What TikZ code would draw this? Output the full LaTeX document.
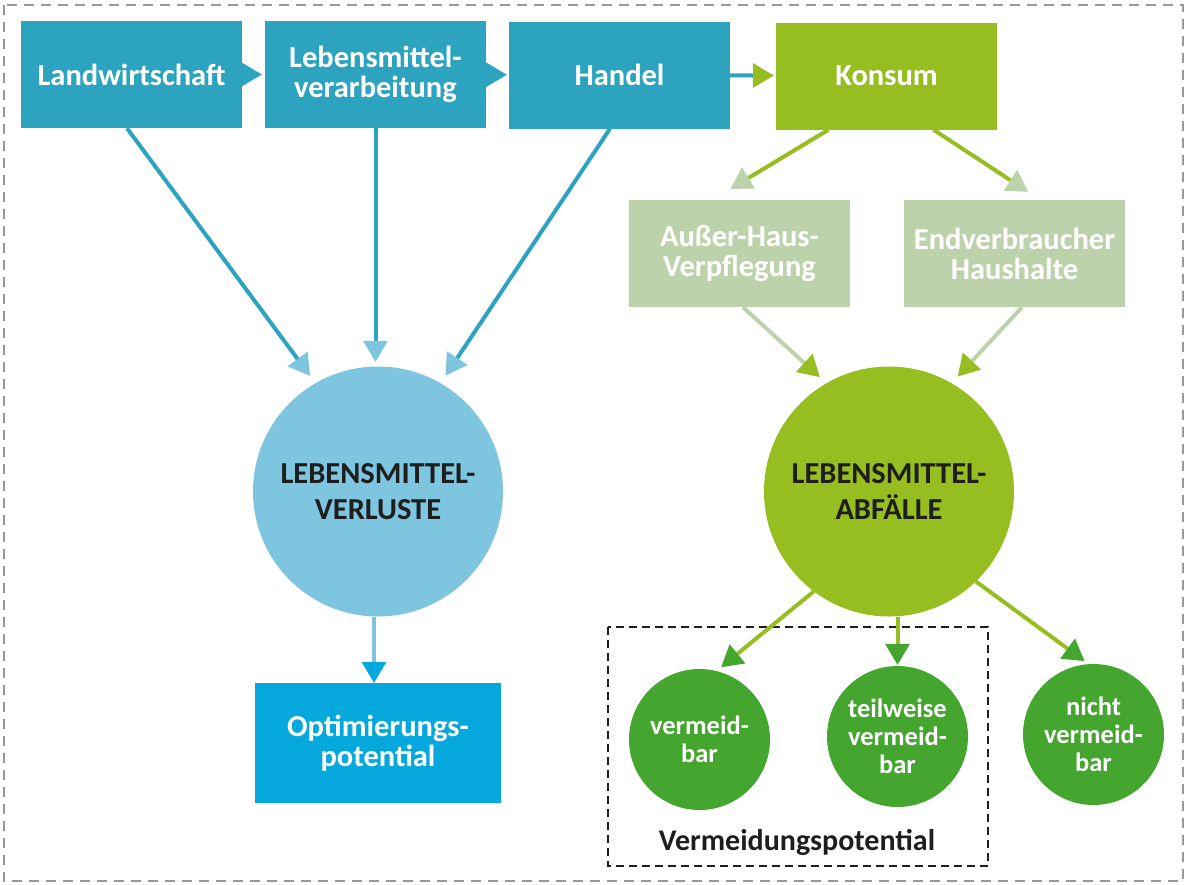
\documentclass[tikz,border=0pt]{standalone}
\usepackage{fontspec}
\setmainfont{Carlito}
\usetikzlibrary{arrows.meta}
\definecolor{stagecol}{HTML}{2CA3BF}
\definecolor{konsumcol}{HTML}{97BE21}
\definecolor{palecol}{HTML}{BBD2AA}
\definecolor{losscol}{HTML}{7EC5DF}
\definecolor{optcol}{HTML}{05A8DC}
\definecolor{avoidcol}{HTML}{44A62E}
\definecolor{inkcol}{HTML}{1E1E1E}
\definecolor{framecol}{HTML}{999999}

\begin{document}
\begin{tikzpicture}[x=1pt,y=-1pt,
  every node/.style={inner sep=0pt,align=center},
  stagebox/.style={rectangle,fill=#1,minimum width=221pt,minimum height=107pt,text=white,font=\fontsize{30.5}{30}\selectfont\bfseries},
  bigcirc/.style={circle,fill=#1,minimum size=250pt,text=inkcol,font=\fontsize{30.5}{36}\selectfont\bfseries},
  smallcirc/.style={circle,fill=avoidcol,minimum size=141pt,text=white,font=\fontsize{26.5}{28}\selectfont\bfseries},
  flow/.style 2 args={line width=4pt,draw=#1,-{Triangle[length=21pt,width=25pt,color=#2,line width=0pt]}}]
\useasboundingbox (0,0) rectangle (1186,884);
\draw [framecol,line width=2pt,dash pattern=on 10pt off 7pt] (4,5) rectangle (1183,881);
\draw [inkcol,line width=2pt,dash pattern=on 8pt off 5pt] (608,627) rectangle (988,866);

\node [stagebox=stagecol] (land) at (131.5,74.5) {Landwirtschaft};
\node [stagebox=stagecol] (verarb) at (375.5,74.5) {Lebensmittel-\\verarbeitung};
\node [stagebox=stagecol] (handel) at (619.5,75) {Handel};
\node [stagebox=konsumcol] (konsum) at (886.5,76) {Konsum};
\node [stagebox=palecol] (ausser) at (739.5,253.5) {Außer-Haus-\\Verpflegung};
\node [stagebox=palecol] (endv) at (1014.5,253.5) {Endverbraucher\\Haushalte};
\node [bigcirc=losscol] (lv) at (378,491.5) {LEBENSMITTEL-\\VERLUSTE};
\node [bigcirc=konsumcol] (la) at (889,491.5) {LEBENSMITTEL-\\ABFÄLLE};
\node [stagebox=optcol,minimum width=246pt,minimum height=120pt] (opt) at (378,743) {Optimierungs-\\potential};
\node [smallcirc] (vm) at (699.5,739.5) {vermeid-\\bar};
\node [smallcirc] (tw) at (897.5,736.5) {teilweise\\vermeid-\\bar};
\node [smallcirc] (nv) at (1093.5,734.5) {nicht\\vermeid-\\bar};
\node [anchor=base,text=inkcol,font=\fontsize{30}{30}\selectfont\bfseries] (vpot) at (797,850) {Vermeidungspotential};

\draw [flow={stagecol}{stagecol},shorten >=3pt] (land) -- (verarb);
\draw [flow={stagecol}{stagecol},shorten >=2pt] (verarb) -- (handel);
\draw [flow={stagecol}{konsumcol},shorten >=2pt] (handel) -- (konsum);
\draw [flow={stagecol}{losscol},shorten >=9pt] ([xshift=-4.5pt]land.south) -- (lv.120);
\draw [flow={stagecol}{losscol},shorten >=4.5pt] (verarb.south) -- (verarb.south |- lv.north);
\draw [flow={stagecol}{losscol},shorten >=9pt] ([xshift=-9.5pt]handel.south) -- (lv.60);
\draw [flow={losscol}{optcol}] ([xshift=-4pt]lv.south) -- ([xshift=-4pt]opt.north);
\draw [flow={konsumcol}{palecol}] ([xshift=-58pt]konsum.south) -- ([xshift=-9pt,yshift=11pt]ausser.north);
\draw [flow={konsumcol}{palecol}] ([xshift=47pt]konsum.south) -- ([xshift=13.5pt,yshift=8pt]endv.north);
\draw [flow={palecol}{konsumcol},shorten >=9pt] ([xshift=3.5pt]ausser.south) -- (la.120);
\draw [flow={palecol}{konsumcol},shorten >=9pt] ([xshift=7.5pt]endv.south) -- (la.60);
\draw [flow={konsumcol}{avoidcol},shorten >=6pt] (la.233) -- (vm.76);
\draw [flow={konsumcol}{avoidcol},shorten >=1pt] (tw.north |- la.south) -- (tw.north);
\draw [flow={konsumcol}{avoidcol},shorten >=5pt] (la.314) -- (nv.94);
\end{tikzpicture}
\end{document}
